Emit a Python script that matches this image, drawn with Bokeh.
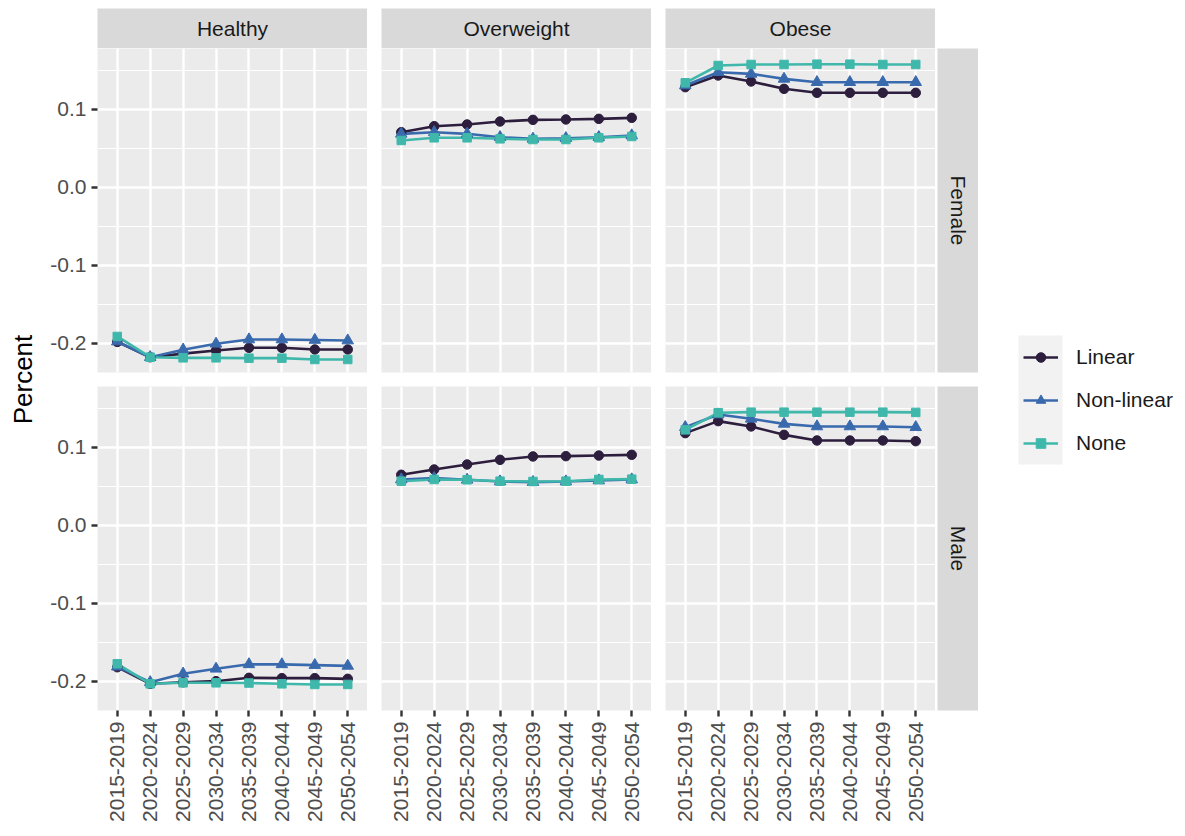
from math import pi
from bokeh.plotting import figure
from bokeh.layouts import row, column
from bokeh.models import (Range1d, FactorRange, FixedTicker, Label, Legend, LegendItem,
                          Spacer, PrintfTickFormatter, BoxAnnotation)
from bokeh.embed import file_html
from bokeh.resources import INLINE
from bokeh.core.validation import silence
from bokeh.core.validation.warnings import MISSING_RENDERERS

silence(MISSING_RENDERERS, True)

# ---------------- data ----------------
periods = ["2015-2019", "2020-2024", "2025-2029", "2030-2034",
           "2035-2039", "2040-2044", "2045-2049", "2050-2054"]
sexes = ["Female", "Male"]
weights = ["Healthy", "Overweight", "Obese"]
models = ["Linear", "Non-linear", "None"]

female_healthy_linear = [-0.198, -0.2176, -0.213, -0.209, -0.2055, -0.2055, -0.2077, -0.2077]
female_healthy_nonlinear = [-0.1975, -0.2176, -0.208, -0.2004, -0.1949, -0.1949, -0.1955, -0.1962]
female_healthy_none = [-0.191, -0.2176, -0.2184, -0.2184, -0.2188, -0.2188, -0.2205, -0.2205]

male_healthy_linear = [-0.1817, -0.203, -0.201, -0.1996, -0.1953, -0.1957, -0.1957, -0.1966]
male_healthy_nonlinear = [-0.181, -0.201, -0.190, -0.1837, -0.178, -0.178, -0.179, -0.180]
male_healthy_none = [-0.1773, -0.203, -0.2017, -0.2017, -0.202, -0.203, -0.2038, -0.2038]

female_overweight_linear = [0.0709, 0.0786, 0.0808, 0.0846, 0.0867, 0.0872, 0.088, 0.0893]
female_overweight_nonlinear = [0.0688, 0.0709, 0.0688, 0.0645, 0.0624, 0.0632, 0.0645, 0.0667]
female_overweight_none = [0.0603, 0.0637, 0.0637, 0.0624, 0.0615, 0.0615, 0.0637, 0.0654]

male_overweight_linear = [0.065, 0.0718, 0.0782, 0.0842, 0.0885, 0.0889, 0.0897, 0.0906]
male_overweight_nonlinear = [0.059, 0.0607, 0.0586, 0.0564, 0.0556, 0.0564, 0.0577, 0.059]
male_overweight_none = [0.0568, 0.059, 0.0586, 0.0568, 0.0564, 0.0568, 0.059, 0.0594]

female_obese_linear = [0.1286, 0.1436, 0.1359, 0.1265, 0.1214, 0.1214, 0.1214, 0.1214]
female_obese_nonlinear = [0.1308, 0.1478, 0.1457, 0.1393, 0.135, 0.135, 0.135, 0.135]
female_obese_none = [0.1342, 0.1564, 0.1577, 0.1577, 0.1581, 0.1581, 0.1577, 0.1577]

male_obese_linear = [0.1184, 0.1338, 0.127, 0.1162, 0.109, 0.109, 0.109, 0.1081]
male_obese_nonlinear = [0.126, 0.1423, 0.1368, 0.1303, 0.127, 0.127, 0.127, 0.126]
male_obese_none = [0.1226, 0.1445, 0.1453, 0.1453, 0.1453, 0.1453, 0.1453, 0.145]

y_ticks = [-0.2, -0.1, 0.0, 0.1]
y_minor = [-0.15, -0.05, 0.05, 0.15]

series = {
    ("Female", "Healthy"): [female_healthy_linear, female_healthy_nonlinear, female_healthy_none],
    ("Male", "Healthy"): [male_healthy_linear, male_healthy_nonlinear, male_healthy_none],
    ("Female", "Overweight"): [female_overweight_linear, female_overweight_nonlinear, female_overweight_none],
    ("Male", "Overweight"): [male_overweight_linear, male_overweight_nonlinear, male_overweight_none],
    ("Female", "Obese"): [female_obese_linear, female_obese_nonlinear, female_obese_none],
    ("Male", "Obese"): [male_obese_linear, male_obese_nonlinear, male_obese_none],
}

# ---------------- style ----------------
FONT = "Liberation Sans"
colors = ["#2D1E3E", "#3A6AAE", "#3FB8AB"]
markers = ["circle", "triangle", "square"]
msizes = [9.5, 11.5, 8.5]
PANEL_W, PANEL_H = 270, 324
Y0, Y1 = -0.2372, 0.1782
TOP = 8      # offset from the top of the page
LEFTPAD = 8  # offset from the left of the page

x_range = FactorRange(*periods, range_padding=0.1, range_padding_units="absolute")
y_range = Range1d(Y0, Y1)


def panel(sex, w, col, bottom):
    left = 59 if col == 0 else 14
    bb = 118 if bottom else 14
    p = figure(width=left + PANEL_W, height=PANEL_H + bb,
               x_range=x_range, y_range=y_range,
               x_axis_location="below" if bottom else None,
               y_axis_location="left" if col == 0 else None,
               output_backend="svg", toolbar_location=None,
               min_border_left=left, min_border_right=0, min_border_top=0,
               min_border_bottom=bb,
               background_fill_color="#EBEBEB", border_fill_color="white",
               outline_line_color=None)
    p.ygrid.ticker = FixedTicker(ticks=y_ticks, minor_ticks=y_minor)
    p.ygrid.grid_line_color = "white"
    p.ygrid.grid_line_width = 2.4
    p.ygrid.minor_grid_line_color = "white"
    p.ygrid.minor_grid_line_width = 1.2
    p.xgrid.grid_line_color = "white"
    p.xgrid.grid_line_width = 2.4
    for ax in p.axis:
        ax.axis_line_color = None
        ax.major_tick_line_color = "#333333"
        ax.major_tick_line_width = 2.4
        ax.major_tick_out = 6
        ax.major_tick_in = 0
        ax.minor_tick_line_color = None
        ax.major_label_text_font = FONT
        ax.major_label_text_font_size = "21px"
        ax.major_label_text_color = "#4D4D4D"
        ax.major_label_standoff = 5
    if col == 0:
        p.yaxis.ticker = FixedTicker(ticks=y_ticks)
        p.yaxis.formatter = PrintfTickFormatter(format="%.1f")
    if bottom:
        p.xaxis.major_label_orientation = pi / 2
    vals = series[(sex, w)]
    for v, c in zip(vals, colors):
        p.line(x=periods, y=v, line_color=c, line_width=2.6)
    for v, c, m, s in zip(vals, colors, markers, msizes):
        p.scatter(x=periods, y=v, marker=m, size=s, fill_color=c, line_color=c)
    return p


def strip(text, w, h, angle=0.0, left=0, bottom=0, top=0):
    p = figure(width=w + left, height=h + bottom + top, x_range=Range1d(0, 1), y_range=Range1d(0, 1),
               x_axis_location=None, y_axis_location=None,
               min_border_left=left, min_border_right=0, min_border_top=top, min_border_bottom=bottom,
               background_fill_color="#D9D9D9", border_fill_color="white",
               outline_line_color=None, toolbar_location=None, output_backend="svg")
    p.grid.visible = False
    p.add_layout(Label(x=0.5, y=0.5, text=text, text_align="center", text_baseline="middle",
                       angle=angle, text_font=FONT, text_font_size="21px", text_color="#1A1A1A"))
    return p


SH = 40 + TOP
strip_row = row(
    Spacer(width=59, height=SH),
    strip(weights[0], PANEL_W, 40, top=TOP), Spacer(width=14, height=SH),
    strip(weights[1], PANEL_W, 40, top=TOP), Spacer(width=14, height=SH),
    strip(weights[2], PANEL_W, 40, top=TOP), Spacer(width=43, height=SH),
)

rows = []
for i, sex in enumerate(sexes):
    bottom = (i == 1)
    figs = [panel(sex, w, j, bottom) for j, w in enumerate(weights)]
    figs.append(strip(sex, 41, PANEL_H, angle=-pi / 2, left=2, bottom=118 if bottom else 14))
    rows.append(row(*figs))

grid_col = column(strip_row, *rows)

TOTAL_H = SH + (PANEL_H + 14) + (PANEL_H + 118)

# y axis title
pt = figure(width=30 + LEFTPAD, height=TOTAL_H, x_range=Range1d(0, 30 + LEFTPAD), y_range=Range1d(0, TOTAL_H),
            x_axis_location=None, y_axis_location=None, min_border=0,
            outline_line_color=None, toolbar_location=None, output_backend="svg")
pt.grid.visible = False
pt.add_layout(Label(x=14 + LEFTPAD, y=449, text="Percent", text_align="center", text_baseline="middle",
                    angle=pi / 2, text_font=FONT, text_font_size="26px", text_color="#000000"))

# legend
nan = float("nan")
lg = figure(width=199, height=TOTAL_H, x_range=Range1d(0, 199), y_range=Range1d(0, TOTAL_H),
            x_axis_location=None, y_axis_location=None, min_border=0,
            outline_line_color=None, toolbar_location=None, output_backend="svg")
lg.grid.visible = False
lg.add_layout(BoxAnnotation(left=40, right=84, bottom=TOTAL_H - 464, top=TOTAL_H - 335,
                            fill_color="#F2F2F2", fill_alpha=1.0, line_color=None))
items = []
for m, c, mk, s in zip(models, colors, markers, msizes):
    rl = lg.line(x=[nan], y=[nan], line_color=c, line_width=2.6)
    rp = lg.scatter(x=[nan], y=[nan], marker=mk, size=s, fill_color=c, line_color=c)
    items.append(LegendItem(label=m, renderers=[rl, rp]))
legend = Legend(items=items, location=(45, TOTAL_H - 345 - 110), orientation="vertical",
                glyph_width=35, glyph_height=24, label_height=24, label_standoff=18,
                spacing=19, padding=0, margin=0,
                background_fill_alpha=0, border_line_color=None,
                label_text_font=FONT, label_text_font_size="21px", label_text_color="#1A1A1A")
lg.add_layout(legend)

layout = row(pt, grid_col, lg)

open("out.html", "w").write(file_html(layout, INLINE))
